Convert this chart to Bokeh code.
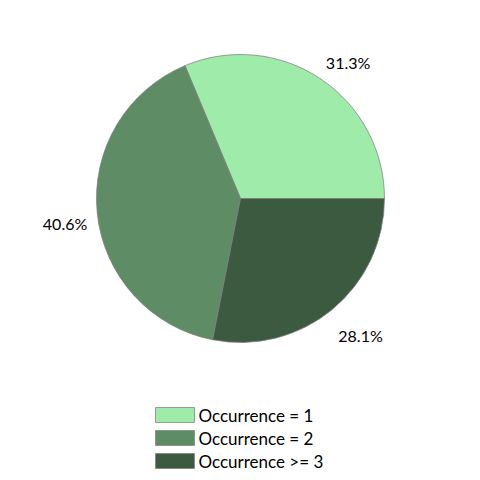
import math
from bokeh.plotting import figure
from bokeh.models import Range1d, ColumnDataSource
from bokeh.core.properties import value
from bokeh.embed import file_html
from bokeh.resources import INLINE

# Share of records by number of occurrences
categories = ["Occurrence = 1", "Occurrence = 2", "Occurrence >= 3"]
shares = [31.3, 40.6, 28.1]
colors = ["#9FEBA9", "#5E8C65", "#3B5A40"]

W, H = 480, 480
CX, CY, R = 240, 282, 144
FONT = "Lato"

p = figure(width=W, height=H, output_backend="svg", toolbar_location=None,
           x_range=Range1d(0, W), y_range=Range1d(0, H),
           min_border=0, outline_line_color=None)
p.axis.visible = False
p.grid.visible = False
p.background_fill_color = "white"
p.border_fill_color = "white"

# Slices, counter-clockwise from 3 o'clock
total = sum(shares)
starts, ends, acc = [], [], 0.0
for s in shares:
    starts.append(2 * math.pi * acc / total)
    acc += s
    ends.append(2 * math.pi * acc / total)

src = ColumnDataSource(dict(start=starts, end=ends, color=colors))
p.wedge(x=CX, y=CY, radius=R, start_angle="start", end_angle="end",
        fill_color="color", line_color="#808080", line_width=0.75, source=src)

# Percentage labels just outside each slice
for s, a0, a1 in zip(shares, starts, ends):
    mid = (a0 + a1) / 2
    c, sn = math.cos(mid), math.sin(mid)
    x = CX + (R + 10) * c
    y = CY + (R + 8) * sn
    align = "left" if c > 0.2 else ("right" if c < -0.2 else "center")
    base = "bottom" if sn > 0.2 else ("top" if sn < -0.2 else "middle")
    p.text(x=[x], y=[y], text=[f"{s:.1f}%"], text_align=align,
           text_baseline=base, y_offset=10 if sn < 0 else 0,
           text_font=value(FONT), text_font_size="16px", text_color="#000000")

# Legend block
sw_x0, sw_x1 = 155, 194
row0, step, sw_h = 480 - 414.5, 23, 15
rows = [row0 - i * step for i in range(len(categories))]
p.quad(left=[sw_x0] * 3, right=[sw_x1] * 3,
       bottom=[r - sw_h / 2 for r in rows], top=[r + sw_h / 2 for r in rows],
       fill_color=colors, line_color="#808080", line_width=0.75)
p.text(x=[sw_x1 + 4] * 3, y=rows, text=categories, text_align="left",
       text_baseline="middle", text_font=value(FONT), text_font_size="17px",
       text_color="#000000")

open("out.html", "w").write(file_html(p, INLINE))
